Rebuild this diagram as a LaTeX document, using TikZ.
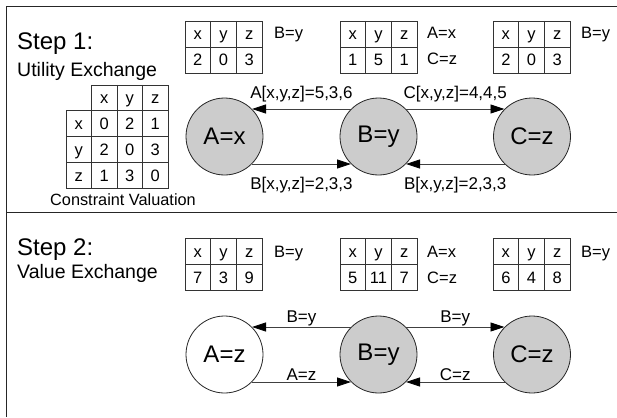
\documentclass[tikz,border=0pt]{standalone}
\usepackage{fontspec}
\setmainfont{Liberation Sans}
\usetikzlibrary{arrows.meta}

\definecolor{nodegray}{RGB}{204,204,204}

\begin{document}
\begin{tikzpicture}[x=1pt,y=-1pt,
    frame/.style={line width=1.3pt, black!85},
    grid/.style={line width=0.8pt, black!80},
    agent/.style={circle, draw=black!85, line width=0.8pt, fill=nodegray,
        minimum size=77pt, inner sep=0pt, font=\fontsize{24}{24}\selectfont},
    msg/.style={line width=0.8pt, draw=black!75, -{Triangle[length=14pt,width=9pt,color=black]}},
    cell/.style={anchor=base, inner sep=0pt, font=\fontsize{16.5}{16.5}\selectfont},
    side/.style={anchor=base west, inner sep=0pt, font=\fontsize{16.5}{16.5}\selectfont},
    msglbl/.style={inner sep=1pt, text=black, font=\fontsize{17}{17}\selectfont}]
\useasboundingbox (0,0) rectangle (617,417);

% frame and divider
\draw[frame] (617,6.7) -- (6.5,6.7) -- (6.5,417);
\draw[frame] (6.5,212.5) -- (617,212.5);

% titles
\node[anchor=base west, inner sep=0pt, font=\fontsize{24}{24}\selectfont] (stepOne) at (17,50) {Step 1:};
\node[anchor=base west, inner sep=0pt, font=\fontsize{19.5}{19.5}\selectfont] (utilEx) at (17,76.7) {Utility Exchange};
\node[anchor=base west, inner sep=0pt, font=\fontsize{24}{24}\selectfont] (stepTwo) at (17,255) {Step 2:};
\node[anchor=base west, inner sep=0pt, font=\fontsize{19.5}{19.5}\selectfont] (valEx) at (17,278) {Value Exchange};

% small x/y/z tables
\foreach \tn/\tx/\ty/\a/\b/\c in
{   tA/185/21/2/0/3,
    tB/340/21/1/5/1,
    tC/493/21/2/0/3,
    uA/185/238/7/3/9,
    uB/340/238/5/11/7,
    uC/493/238/6/4/8
}
{
    \draw[grid] (\tx,\ty) rectangle ++(77,52);
    \draw[grid] (\tx,\ty+26) -- ++(77,0);
    \draw[grid] (\tx+25.67,\ty) -- ++(0,52);
    \draw[grid] (\tx+51.33,\ty) -- ++(0,52);
    \node[cell] (\tn-hx) at (\tx+12.83,\ty+19) {x};
    \node[cell] (\tn-hy) at (\tx+38.5,\ty+19) {y};
    \node[cell] (\tn-hz) at (\tx+64.17,\ty+19) {z};
    \node[cell] (\tn-x) at (\tx+12.83,\ty+45) {\a};
    \node[cell] (\tn-y) at (\tx+38.5,\ty+45) {\b};
    \node[cell] (\tn-z) at (\tx+64.17,\ty+45) {\c};
};

% assignments beside the tables
\foreach \v/\p/\t in
{   sA/{274,38.5}/B=y,
    sB/{427,38.5}/A=x,
    sC/{427,64.5}/C=z,
    sD/{581,38.5}/B=y,
    sE/{274,257.5}/B=y,
    sF/{427,257.5}/A=x,
    sG/{427,283}/C=z,
    sH/{581,257.5}/B=y
}
{
    \node[side] (\v) at (\p) {\t};
};

% constraint valuation table
\draw[grid] (91.5,85) -- (168,85) -- (168,188) -- (66,188) -- (66,110.75);
\draw[grid] (91.5,85) -- (91.5,188);
\draw[grid] (117,85) -- (117,188);
\draw[grid] (142.5,85) -- (142.5,188);
\draw[grid] (66,110.75) -- (168,110.75);
\draw[grid] (66,136.5) -- (168,136.5);
\draw[grid] (66,162.25) -- (168,162.25);
\node[cell] (cv-hx) at (104.25,103.75) {x};
\node[cell] (cv-hy) at (129.75,103.75) {y};
\node[cell] (cv-hz) at (155.25,103.75) {z};
\foreach \rn/\a/\b/\c [count=\i] in {x/0/2/1, y/2/0/3, z/1/3/0}
{
    \node[cell] (cv-\rn) at (78.75,103.75+25.75*\i) {\rn};
    \node[cell] (cv-\rn x) at (104.25,103.75+25.75*\i) {\a};
    \node[cell] (cv-\rn y) at (129.75,103.75+25.75*\i) {\b};
    \node[cell] (cv-\rn z) at (155.25,103.75+25.75*\i) {\c};
};
\node[anchor=base west, inner sep=0pt, font=\fontsize{16.3}{16.3}\selectfont] (cvLbl) at (50,205) {Constraint Valuation};

% step 1 agents
\node[agent] (nA1) at (224.5,136.5) {A=x};
\node[agent] (nB1) at (378.5,136.5) {B=y};
\node[agent] (nC1) at (532,136.5) {C=z};

\draw[msg] (nB1.135) -- node[msglbl, above=6pt] {A[x,y,z]=5,3,6} (nA1.45);
\draw[msg] (nA1.-45) -- node[msglbl, below=12pt] {B[x,y,z]=2,3,3} (nB1.-135);
\draw[msg] (nB1.45) -- node[msglbl, above=6pt] {C[x,y,z]=4,4,5} (nC1.135);
\draw[msg] (nC1.-135) -- node[msglbl, below=12pt] {B[x,y,z]=2,3,3} (nB1.-45);

% step 2 agents
\node[agent, fill=white] (nA2) at (224.5,354.5) {A=z};
\node[agent] (nB2) at (378.5,354.5) {B=y};
\node[agent] (nC2) at (532,354.5) {C=z};

\draw[msg] (nB2.135) -- node[msglbl, above] {B=y} (nA2.45);
\draw[msg] (nA2.-45) -- node[msglbl, above] {A=z} (nB2.-135);
\draw[msg] (nB2.45) -- node[msglbl, above] {B=y} (nC2.135);
\draw[msg] (nC2.-135) -- node[msglbl, above] {C=z} (nB2.-45);
\end{tikzpicture}
\end{document}
